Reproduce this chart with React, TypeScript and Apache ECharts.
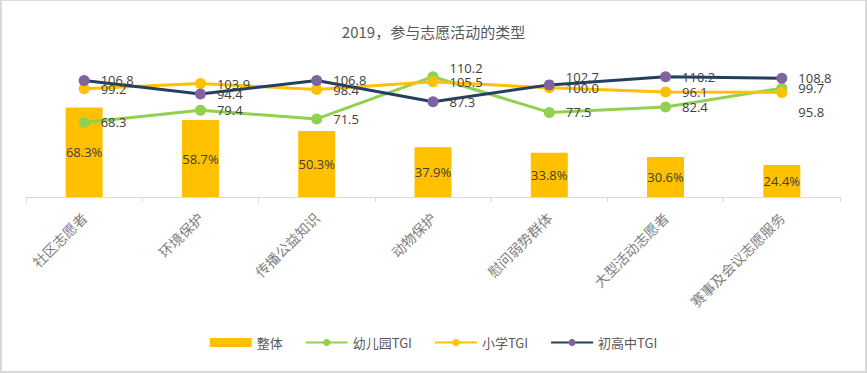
import React, { useEffect, useRef } from "react";
import * as echarts from "echarts";

const categories = ["社区志愿者", "环境保护", "传播公益知识", "动物保护", "慰问弱势群体", "大型活动志愿者", "赛事及会议志愿服务"];
const overall = [68.3, 58.7, 50.3, 37.9, 33.8, 30.6, 24.4];
const kindergartenTGI = [68.3, 79.4, 71.5, 110.2, 77.5, 82.4, 99.7];
const primaryTGI = [99.2, 103.9, 98.4, 105.5, 100.0, 96.1, 95.8];
const secondaryTGI = [106.8, 94.4, 106.8, 87.3, 102.7, 110.2, 108.8];

const labelOffsets: Record<string, Record<number, [number, number]>> = {
  green: { 3: [0, -9] },
  yellow: { 6: [0, 20] },
  navy: { 4: [0, -8] },
};

function withOffsets(values: number[], key: string) {
  return values.map((v, i) => {
    const off = labelOffsets[key][i];
    return off ? { value: v, label: { offset: off } } : v;
  });
}

export default function App() {
  const ref = useRef<HTMLDivElement>(null);
  useEffect(() => {
    document.body.style.margin = "0";
    const chart = echarts.init(ref.current!, null, { renderer: "svg" });
    const lineLabel = {
      show: true,
      position: "right" as const,
      distance: 11,
      color: "#404040",
      fontSize: 13,
      fontFamily: "Open Sans, Noto Sans CJK SC",
      formatter: (p: any) => Number(p.value).toFixed(1),
    };
    chart.setOption({
      animation: false,
      backgroundColor: "#fff",
      textStyle: { fontFamily: "Noto Sans CJK SC, sans-serif" },
      title: {
        text: "2019，参与志愿活动的类型",
        left: "center",
        top: 18,
        textStyle: { fontSize: 15, fontWeight: "normal", color: "#595959" },
      },
      grid: { left: 24, right: 25, top: 65, bottom: 174, containLabel: false },
      legend: {
        bottom: 17,
        left: "center",
        itemGap: 22,
        itemWidth: 42,
        itemHeight: 9,
        textStyle: { fontSize: 13, color: "#595959" },
        data: [
          { name: "整体", icon: "rect" },
          { name: "幼儿园TGI" },
          { name: "小学TGI" },
          { name: "初高中TGI" },
        ],
      },
      xAxis: {
        type: "category",
        data: categories,
        boundaryGap: true,
        axisLine: { lineStyle: { color: "#D9D9D9", width: 1 } },
        axisTick: { show: true, length: 5, lineStyle: { color: "#D9D9D9" } },
        axisLabel: {
          rotate: 45,
          interval: 0,
          fontSize: 14,
          color: "#7F7F7F",
          margin: 18,
          align: "right",
          verticalAlign: "middle",
        },
      },
      yAxis: [
        { type: "value", min: 0, max: 100, show: false, splitLine: { show: false } },
        { type: "value", min: 0, max: 120, show: false, splitLine: { show: false } },
      ],
      series: [
        {
          name: "整体",
          type: "bar",
          yAxisIndex: 0,
          barWidth: 37,
          data: overall,
          itemStyle: { color: "#FFC000" },
          label: {
            show: true,
            position: "inside",
            formatter: (p: any) => Number(p.value).toFixed(1) + "%",
            color: "#404040",
            fontSize: 13,
            fontFamily: "Open Sans, Noto Sans CJK SC",
          },
        },
        {
          name: "幼儿园TGI",
          type: "line",
          yAxisIndex: 1,
          data: withOffsets(kindergartenTGI, "green"),
          symbol: "circle",
          symbolSize: 11,
          lineStyle: { color: "#92D050", width: 3 },
          itemStyle: { color: "#92D050" },
          label: lineLabel,
        },
        {
          name: "小学TGI",
          type: "line",
          yAxisIndex: 1,
          data: withOffsets(primaryTGI, "yellow"),
          symbol: "circle",
          symbolSize: 11,
          lineStyle: { color: "#FFC000", width: 3 },
          itemStyle: { color: "#FFC000" },
          label: lineLabel,
        },
        {
          name: "初高中TGI",
          type: "line",
          yAxisIndex: 1,
          data: withOffsets(secondaryTGI, "navy"),
          symbol: "circle",
          symbolSize: 11,
          lineStyle: { color: "#243F60", width: 3 },
          itemStyle: { color: "#8064A2" },
          label: lineLabel,
        },
      ],
    });
    return () => chart.dispose();
  }, []);
  return (
    <div
      ref={ref}
      style={{
        width: 867,
        height: 373,
        boxSizing: "border-box",
        border: "2px solid #D9D9D9",
        borderTopWidth: 1,
      }}
    />
  );
}
